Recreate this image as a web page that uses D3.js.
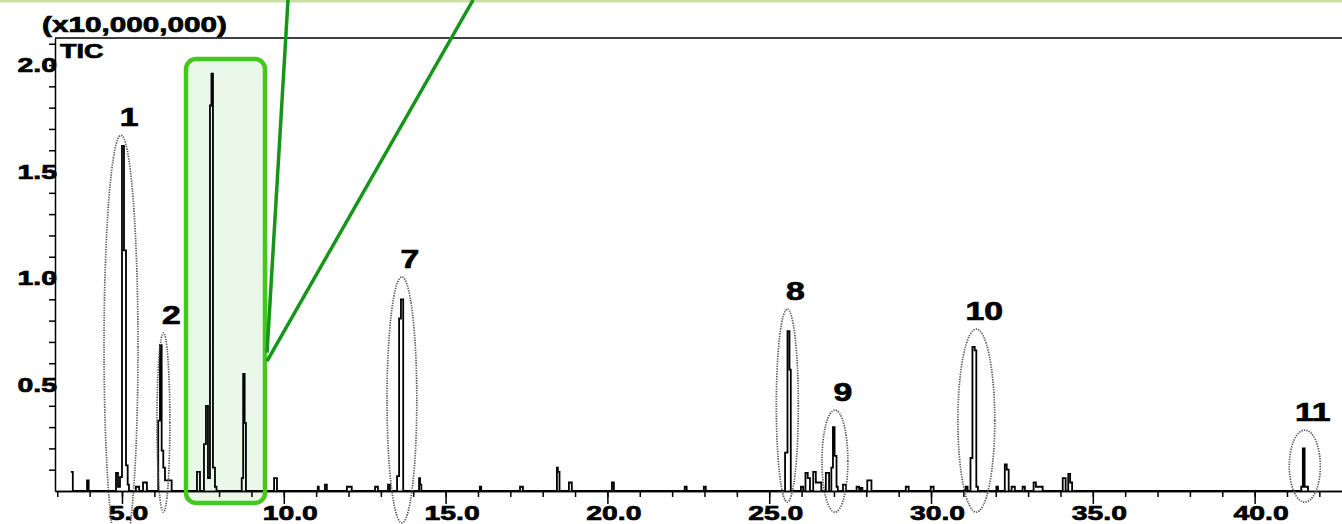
<!DOCTYPE html>
<html>
<head>
<meta charset="utf-8">
<script src="https://cdnjs.cloudflare.com/ajax/libs/d3/7.8.5/d3.min.js"></script>
<style>
  body { margin: 0; background: #fff; }
  .axis path, .axis line { stroke: #000; stroke-width: 1.5; }
  .axis text, .chart-text { font-family: "Liberation Sans", Arial, sans-serif; font-weight: bold; fill: #000; stroke: #000; stroke-width: 0.7; }
</style>
</head>
<body>
<div id="tic-chart"></div>
<script>

// TIC trace, step-after: the signal keeps each value until the next time (min, x10,000,000)
var stepTime = [3.42, 3.48, 3.92, 3.97, 4.815, 4.876, 4.938, 5.000, 5.062, 5.124, 5.176, 5.216,
  5.43, 5.53, 5.65, 5.77, 6.12, 6.174, 6.226, 6.276, 6.328, 6.535,
  7.317, 7.41, 7.533, 7.595, 7.657, 7.719, 7.765, 7.811, 7.873, 7.92,
  8.70, 8.745, 8.79, 8.83, 9.70, 9.79, 11.05, 11.08, 11.27, 11.33, 11.95, 12.10,
  12.82, 12.91, 13.22, 13.28, 13.50, 13.563, 13.62, 13.69, 14.18, 14.21, 14.25,
  16.06, 16.10, 17.30, 17.39, 18.44, 18.47, 18.52, 18.81, 18.90, 20.14, 20.20,
  22.39, 22.45, 22.98, 23.04, 25.49, 25.565, 25.627, 25.667, 25.98, 26.05,
  26.12, 26.19, 26.26, 26.36, 26.44, 26.61, 26.75, 26.85, 26.92, 26.97, 27.02, 27.08, 27.12,
  27.28, 27.37, 27.70, 27.78, 27.82, 27.88, 28.03, 28.16, 29.22, 29.31, 29.99, 30.08,
  31.07, 31.13, 31.22, 31.28, 31.35, 31.40, 31.45, 32.02, 32.07, 32.28, 32.34, 32.40,
  32.49, 32.59, 32.83, 32.90, 33.17, 33.24, 33.45, 34.07, 34.16, 34.24, 34.30, 34.36,
  41.44, 41.49, 41.545, 41.65];

var stepValue = [0.09, 0, 0.05, 0, 0.085, 0.02, 0.065, 1.62, 1.13, 0.12, 0.03, 0,
  0.02, 0, 0.04, 0, 0.33, 0.685, 0.19, 0.11, 0.05, 0,
  0.09, 0, 0.22, 0.40, 0.06, 1.81, 1.96, 0.11, 0.02, 0,
  0.06, 0.55, 0.32, 0, 0.06, 0, 0.02, 0, 0.03, 0, 0.02, 0,
  0.02, 0, 0.03, 0, 0.07, 0.81, 0.90, 0, 0.06, 0.03, 0,
  0.02, 0, 0.02, 0, 0.11, 0.09, 0, 0.04, 0, 0.04, 0,
  0.02, 0, 0.02, 0, 0.18, 0.75, 0.57, 0, 0.02, 0,
  0.085, 0.06, 0, 0.09, 0.04, 0, 0.085, 0, 0.11, 0.30, 0.165, 0.02, 0,
  0.03, 0, 0.02, 0, 0.015, 0, 0.05, 0, 0.02, 0, 0.02, 0,
  0.02, 0, 0.155, 0.677, 0.66, 0.02, 0, 0.02, 0, 0.125, 0.10, 0,
  0.02, 0, 0.02, 0, 0.04, 0.02, 0, 0.06, 0, 0.08, 0.04, 0,
  0.02, 0.20, 0.02, 0];

// numbered peaks and the dotted rings round them
var peakIds = ["1", "2", "7", "8", "9", "10", "11"];
var peakTime = [4.97, 6.28, 13.65, 25.56, 27.03, 31.40, 41.55];
var ringHalfWidth = [0.525, 0.20, 0.46, 0.34, 0.40, 0.57, 0.48];
var ringTop = [1.67, 0.742, 1.005, 0.854, 0.38, 0.76, 0.286];
var ringBottom = [-0.32, -0.099, -0.15, -0.052, -0.099, -0.099, -0.052];

// highlighted window (peaks 3-6) and the lines running up to its inset
var windowTime = [6.978, 9.42];
var windowValue = [-0.056, 2.028];
var linkTopTime = [10.13, 15.85];
var linkEndValue = [0.65, 0.61];

var xMinorTicks = d3.range(3, 43, 1);
var xMajorTicks = [5, 10, 15, 20, 25, 30, 35, 40];
var yMinorTicks = d3.range(1, 22).map(function(i) { return i / 10; });
var yMajorTicks = [0.5, 1.0, 1.5, 2.0];


TicChart = function(_parentElement) {
  this.parentElement = _parentElement;
  this.data = stepTime.map(function(t, i) { return { t: t, v: stepValue[i] }; });
  this.initVis();
}

TicChart.prototype.initVis = function() {
  var vis = this;

  vis.margin = { top: 38, right: 0, bottom: 33, left: 55 };
  vis.width = 1342 - vis.margin.left - vis.margin.right;
  vis.height = 524 - vis.margin.top - vis.margin.bottom;

  vis.root = d3.select("#" + vis.parentElement).append("svg")
      .attr("width", 1342)
      .attr("height", 524);

  // pale strip along the top edge
  vis.root.append("rect")
      .attr("x", 0).attr("y", 0)
      .attr("width", 1342).attr("height", 2.5)
      .attr("fill", "#c9dfa3");

  vis.svg = vis.root.append("g")
      .attr("transform", "translate(" + vis.margin.left + "," + vis.margin.top + ")");

  vis.x = d3.scaleLinear()
      .domain([2.93, 42.7])
      .range([0, vis.width]);

  vis.y = d3.scaleLinear()
      .domain([0, 2.127])
      .range([vis.height, 0]);

  vis.updateVis();
}

TicChart.prototype.updateVis = function() {
  var vis = this;
  var stretch = "scale(1.35,1)";

  // window fill sits under the trace
  var wx0 = vis.x(windowTime[0]), wx1 = vis.x(windowTime[1]);
  var wy0 = vis.y(windowValue[1]), wy1 = vis.y(windowValue[0]);
  vis.svg.append("rect")
      .attr("x", wx0).attr("y", wy0)
      .attr("width", wx1 - wx0).attr("height", wy1 - wy0)
      .attr("rx", 10)
      .attr("fill", "#e9f8e9");

  // x axis: minor and major ticks
  var xMinor = d3.axisBottom(vis.x).tickValues(xMinorTicks).tickSize(6).tickSizeOuter(0).tickFormat("");
  var xMajor = d3.axisBottom(vis.x).tickValues(xMajorTicks).tickSize(13).tickSizeOuter(0)
      .tickPadding(1).tickFormat(d3.format(".1f"));

  vis.svg.append("g").attr("class", "axis")
      .attr("transform", "translate(0," + vis.height + ")")
      .call(xMinor);
  var gx = vis.svg.append("g").attr("class", "axis")
      .attr("transform", "translate(0," + vis.height + ")")
      .call(xMajor);
  gx.selectAll("text")
      .style("font-size", "21px")
      .attr("transform", "translate(6,0) " + stretch);

  // y axis
  var yMinor = d3.axisLeft(vis.y).tickValues(yMinorTicks).tickSize(6).tickSizeOuter(0).tickFormat("");
  var yMajor = d3.axisLeft(vis.y).tickValues(yMajorTicks).tickSize(0).tickSizeOuter(0)
      .tickFormat(d3.format(".1f"));

  var gy = vis.svg.append("g").attr("class", "axis").call(yMajor);
  gy.select(".domain").remove();
  gy.selectAll("text")
      .style("font-size", "21px")
      .attr("x", 0)
      .attr("text-anchor", "end")
      .attr("transform", "translate(2,0) " + stretch);
  vis.svg.append("g").attr("class", "axis").call(yMinor);

  // frame top
  vis.svg.append("line")
      .attr("x1", 0).attr("x2", vis.width)
      .attr("y1", 0).attr("y2", 0)
      .attr("stroke", "#000").attr("stroke-width", 1.5);

  // chromatogram trace
  var line = d3.line()
      .x(function(d) { return vis.x(d.t); })
      .y(function(d) { return vis.y(d.v); })
      .curve(d3.curveStepAfter);

  vis.svg.append("path")
      .datum(vis.data)
      .attr("d", line)
      .attr("fill", "none")
      .attr("stroke", "#000")
      .attr("stroke-width", 1.8);

  // dotted rings and peak numbers
  var peaks = peakIds.map(function(id, i) {
    return { id: id, t: peakTime[i], hw: ringHalfWidth[i], top: ringTop[i], bottom: ringBottom[i] };
  });

  vis.svg.selectAll(".ring")
      .data(peaks)
    .enter().append("ellipse")
      .attr("class", "ring")
      .attr("cx", function(d) { return vis.x(d.t); })
      .attr("cy", function(d) { return (vis.y(d.top) + vis.y(d.bottom)) / 2; })
      .attr("rx", function(d) { return vis.x(d.t + d.hw) - vis.x(d.t); })
      .attr("ry", function(d) { return (vis.y(d.bottom) - vis.y(d.top)) / 2; })
      .attr("fill", "none")
      .attr("stroke", "#555")
      .attr("stroke-width", 1.7)
      .attr("stroke-dasharray", "1.3,1.2");

  vis.svg.selectAll(".peak-label")
      .data(peaks)
    .enter().append("text")
      .attr("class", "peak-label chart-text")
      .attr("text-anchor", "middle")
      .style("font-size", "25px")
      .attr("transform", function(d) {
        return "translate(" + (vis.x(d.t) + 8) + "," + (vis.y(d.top) - 9) + ") " + stretch;
      })
      .text(function(d) { return d.id; });

  // window outline and the links to its inset
  vis.svg.append("rect")
      .attr("x", wx0).attr("y", wy0)
      .attr("width", wx1 - wx0).attr("height", wy1 - wy0)
      .attr("rx", 10)
      .attr("fill", "none")
      .attr("stroke", "#44c81c")
      .attr("stroke-width", 4.5);

  vis.svg.selectAll(".link")
      .data(linkTopTime)
    .enter().append("line")
      .attr("class", "link")
      .attr("x1", function(d) { return vis.x(d); })
      .attr("y1", -vis.margin.top)
      .attr("x2", wx1 + 2)
      .attr("y2", function(d, i) { return vis.y(linkEndValue[i]); })
      .attr("stroke", "#16951a")
      .attr("stroke-width", 3.5);

  // unit and trace name
  vis.root.append("text")
      .attr("class", "chart-text")
      .style("font-size", "22px")
      .attr("transform", "translate(42,32) " + stretch)
      .text("(x10,000,000)");

  vis.root.append("text")
      .attr("class", "chart-text")
      .style("font-size", "20px")
      .attr("transform", "translate(60,58) " + stretch)
      .text("TIC");
}

var ticChart = new TicChart("tic-chart");

</script>
</body>
</html>
